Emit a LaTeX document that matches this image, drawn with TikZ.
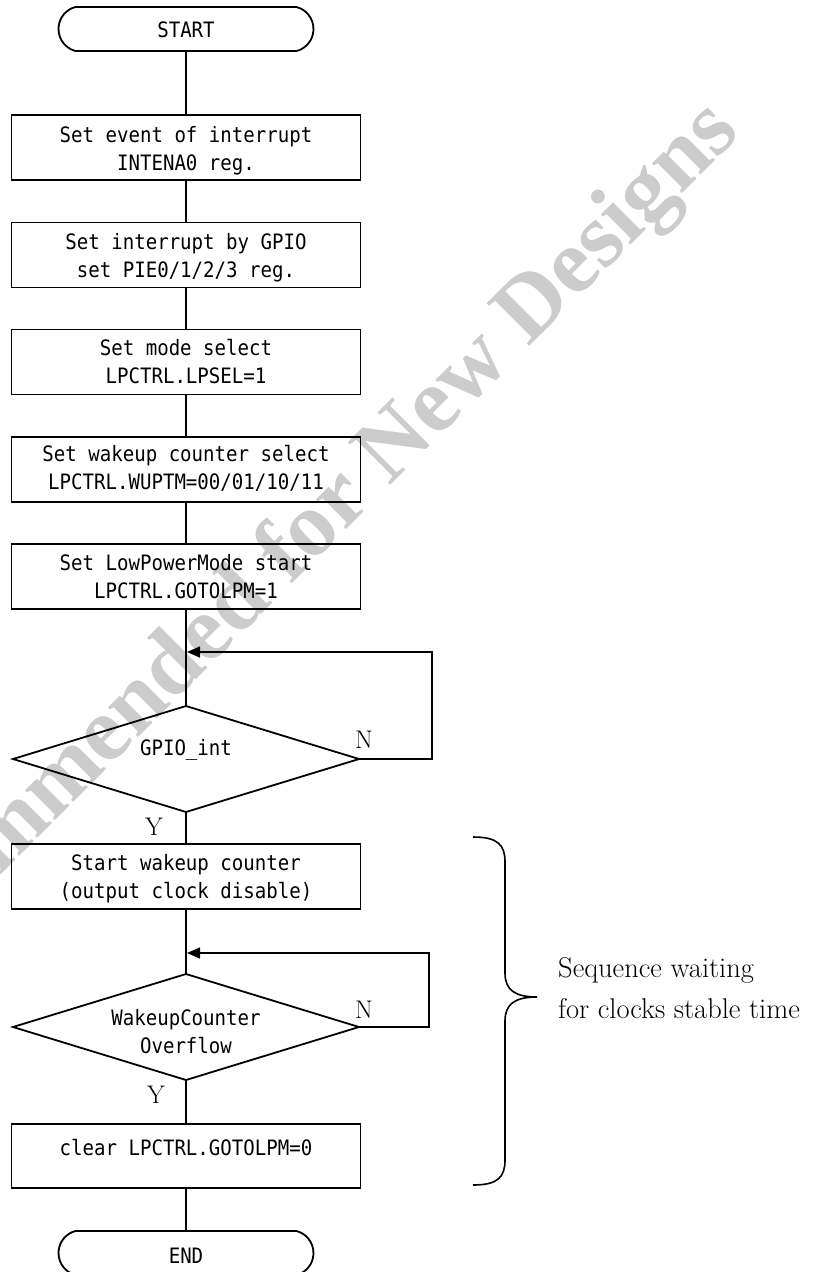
\documentclass[tikz,border=0pt]{standalone}
\usepackage{fontspec}
\newfontfamily\mono[FakeStretch=0.9]{DejaVu Sans Mono}
\newfontfamily\wmfont{Liberation Serif}
\usetikzlibrary{shapes.geometric,shapes.misc,arrows.meta}
\definecolor{wmgray}{RGB}{204,204,204}
\newcommand{\tl}[2]{\raisebox{#1}[\height][\depth]{\begin{tabular}{@{}c@{}}#2\end{tabular}}}
\tikzset{
  monofont/.style={font=\mono\fontsize{21.2}{28}\selectfont},
  box/.style={draw, line width=1.8pt, minimum width=349pt, minimum height=65pt,
    inner sep=0pt, outer sep=0pt, monofont},
  term/.style={draw, rounded rectangle, rounded rectangle arc length=150,
    line width=1.8pt, minimum width=255pt, minimum height=44pt,
    inner sep=0pt, outer sep=0pt, monofont},
  dec/.style={draw, diamond, aspect=3.26, line width=1.8pt, minimum width=346pt,
    minimum height=106pt, inner sep=0pt, outer sep=0pt, monofont},
  flow/.style={line width=1.6pt},
  loopback/.style={line width=1.6pt, -{Triangle[length=13pt,width=11pt]}},
  yn/.style={font=\fontsize{25.5}{30}\selectfont, inner sep=0pt, anchor=base west},
  note/.style={font=\fontsize{28.5}{41}\selectfont, inner sep=0pt, anchor=base west},
  wm/.style={font=\wmfont\bfseries\fontsize{92}{92}\selectfont, text=wmgray,
    rotate=45, anchor=base east, inner sep=0pt},
}
\begin{document}
\begin{tikzpicture}[x=1pt,y=-1pt]
\useasboundingbox (0,0) rectangle (832,1272);
\clip (0,0) rectangle (832,1272);
% watermark
\node[wm] (wmark) at (742,134) {Not Recommended for New Designs};

% flow nodes
\node[term] (start) at (186,29) {\tl{-3pt}{START}};
\node[box] (b1) at (186,147.5) {\tl{-2.9pt}{Set event of interrupt\hspace{40pt}\\INTENA0 reg.}};
\node[box] (b2) at (186,255) {\tl{-2.4pt}{Set interrupt by GPIO\\set PIE0/1/2/3 reg.}};
\node[box] (b3) at (186,362) {\tl{-1.4pt}{Set mode select\\LPCTRL.LPSEL=1}};
\node[box] (b4) at (186,469.5) {\tl{-0.6pt}{Set wakeup counter select\\LPCTRL.WUPTM=00/01/10/11}};
\node[box] (b5) at (186,576.5) {\tl{-2pt}{Set LowPowerMode start\\LPCTRL.GOTOLPM=1}};
\node[dec] (d1) at (186,759) {\tl{9.6pt}{GPIO\_int}};
\node[box] (b6) at (186,876.5) {\tl{-2pt}{Start wakeup counter\\(output clock disable)}};
\node[dec] (d2) at (186,1027) {\tl{-6.4pt}{WakeupCounter\\Overflow}};
\node[box, minimum height=64pt] (b7) at (186,1156) {\tl{6.6pt}{clear LPCTRL.GOTOLPM=0}};
\node[term] (end) at (186,1253) {\tl{-4.4pt}{END}};

% labels
\node[yn] (n1) at (355,748) {N};
\node[yn] (y1) at (145,835) {Y};
\node[yn] (n2) at (355,1018) {N};
\node[yn] (y2) at (147,1103) {Y};

% main flow
\draw[flow] (start) -- (b1);
\draw[flow] (b1) -- (b2);
\draw[flow] (b2) -- (b3);
\draw[flow] (b3) -- (b4);
\draw[flow] (b4) -- (b5);
\draw[flow] (b5) -- (d1);
\draw[flow] (d1) -- (b6);
\draw[flow] (b6) -- (d2);
\draw[flow] (d2) -- (b7);
\draw[flow] (b7) -- (end);

% loops
\coordinate (j1) at (187,652);
\coordinate (r1) at (432,759);
\draw[loopback] (d1.east) -- (r1) |- (j1);
\coordinate (j2) at (187,953);
\coordinate (r2) at (429,1027);
\draw[loopback] (d2.east) -- (r2) |- (j2);

% brace
\draw[line width=1.6pt] (473,837) .. controls (498,837) and (505,845) .. (505,862)
  -- (505,973) .. controls (505,990) and (515,997) .. (537,997)
  .. controls (515,997) and (505,1004) .. (505,1021)
  -- (505,1160) .. controls (505,1177) and (498,1185) .. (473,1185);

\node[note] (s1) at (558,977) {Sequence waiting};
\node[note] (s2) at (558,1018) {for clocks stable time};
\end{tikzpicture}
\end{document}
